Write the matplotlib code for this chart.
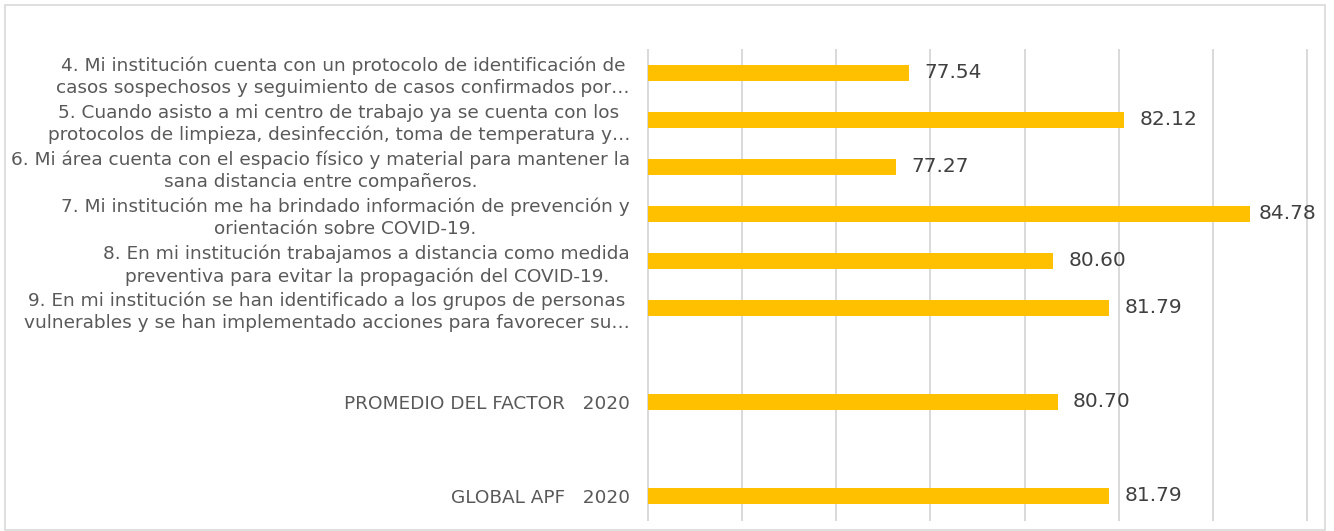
import numpy as np
import matplotlib
matplotlib.use("Agg")
import matplotlib.pyplot as plt
from matplotlib.patches import Rectangle

categories = [
    "4. Mi institución cuenta con un protocolo de identificación de\ncasos sospechosos y seguimiento de casos confirmados por…",
    "5. Cuando asisto a mi centro de trabajo ya se cuenta con los\nprotocolos de limpieza, desinfección, toma de temperatura y…",
    "6. Mi área cuenta con el espacio físico y material para mantener la\nsana distancia entre compañeros.",
    "7. Mi institución me ha brindado información de prevención y\norientación sobre COVID-19.",
    "8. En mi institución trabajamos a distancia como medida\npreventiva para evitar la propagación del COVID-19.",
    "9. En mi institución se han identificado a los grupos de personas\nvulnerables y se han implementado acciones para favorecer su…",
    "",
    "PROMEDIO DEL FACTOR   2020",
    "",
    "GLOBAL APF   2020",
]
values = [77.54, 82.12, 77.27, 84.78, 80.60, 81.79, np.nan, 80.70, np.nan, 81.79]

x_min, x_max, x_step = 72, 86, 2

fig = plt.figure(figsize=(13.34, 5.31), dpi=100)
fig.patch.set_facecolor("white")
fig.patches.append(Rectangle((5 / 1334, 1 - 530 / 531), 1320 / 1334, 525 / 531,
                             transform=fig.transFigure, fill=False,
                             edgecolor="#d9d9d9", linewidth=1.2))

ax = fig.add_axes([648 / 1334, 1 - 519.5 / 531, (1307 - 648) / 1334, 470 / 531])
pos = np.arange(len(categories))
ax.barh(pos, values, height=0.36, color="#FFC000", left=0, zorder=3)
ax.set_xlim(x_min, x_max)
ax.set_ylim(len(categories) - 0.5, -0.5)
ax.set_xticks(np.arange(x_min, x_max + 0.1, x_step))
ax.set_xticklabels([])
ax.tick_params(axis="x", length=0)
ax.tick_params(axis="y", length=0, pad=13)
ax.set_yticks(pos)
ax.set_yticklabels(categories, fontsize=13.3, color="#595959", linespacing=1.28)
for t in ax.get_yticklabels():
    t.set_multialignment("center")
ax.grid(axis="x", color="#d9d9d9", linewidth=1.4)
for gl in ax.get_xgridlines():
    gl.set_clip_on(False)
for s in ax.spines.values():
    s.set_visible(False)

limit = x_max + 0.2
for p, v in zip(pos, values):
    if np.isnan(v):
        continue
    label = f"{v:.2f}"
    if v + 0.33 + 1.35 > limit:
        ax.text(limit, p, label, ha="right", va="center", fontsize=14.5,
                color="#404040", clip_on=False, zorder=4)
    else:
        ax.text(v + 0.33, p, label, ha="left", va="center", fontsize=14.5,
                color="#404040", clip_on=False, zorder=4)

fig.savefig("out.png", dpi=100)
